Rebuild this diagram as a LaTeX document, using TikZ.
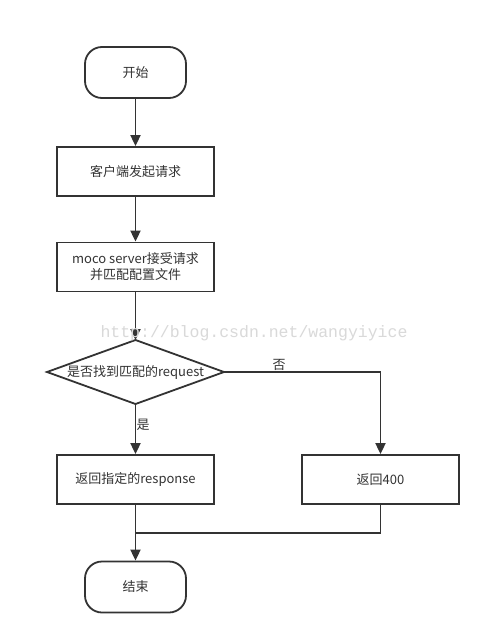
\documentclass[tikz,border=0pt]{standalone}
\usepackage{fontspec}
\setmainfont{Noto Sans CJK SC}
\newfontfamily\wmfont{Liberation Mono}
\usetikzlibrary{arrows.meta}
\definecolor{ln}{HTML}{333333}
\begin{document}
\begin{tikzpicture}[x=1pt,y=-1pt,
  base/.style={draw=ln,line width=1.8pt,text=ln,font=\fontsize{13}{16}\selectfont,align=center,inner sep=0pt},
  terminal/.style={base,minimum width=101pt,minimum height=51pt,rounded corners=17pt},
  procbox/.style={base,minimum width=157pt,minimum height=49pt},
  flow/.style={draw=ln,line width=1.8pt,-{Triangle[length=11pt,width=10pt]}},
  plain/.style={draw=ln,line width=1.8pt},
  lbl/.style={text=ln,font=\fontsize{13}{16}\selectfont,inner sep=0pt}]
\useasboundingbox (0,0) rectangle (491,644);
\fill[white] (0,0) rectangle (491,644);
\node[terminal] (start) at (135.5,72.5) {开始};
\node[procbox] (req) at (135.5,171.5) {客户端发起请求};
\node[procbox] (srv) at (135.5,267) {moco server接受请求\\并匹配配置文件};
\node[base,draw=none] (dtext) at (135.5,372) {是否找到匹配的request};
\coordinate (dT) at (135.5,340);
\coordinate (dB) at (135.5,404);
\coordinate (dL) at (47,372);
\coordinate (dR) at (224,372);
\draw[plain,line join=miter] (dT) -- (dR) -- (dB) -- (dL) -- cycle;
\node[procbox] (resp) at (135.5,479.5) {返回指定的response};
\node[procbox] (r400) at (380.5,479.5) {返回400};
\node[terminal] (end) at (135.5,587) {结束};
\coordinate (corner) at (380.5,372);
\coordinate (merge) at (135.5,533);
\draw[flow] (start) -- (req);
\draw[flow] (req) -- (srv);
\draw[flow] (srv) -- (dT);
\draw[flow] (dB) -- (resp);
\draw[flow] (dR) -- (corner) -- (r400);
\draw[plain] (r400.south) |- (merge);
\draw[flow] (resp) -- (end);
\node[lbl] (yes) at (143,425) {是};
\node[lbl] (no) at (279,365) {否};
\node[text=black!15,font=\wmfont\fontsize{16.5}{16.5}\selectfont,inner sep=0pt] (wm) at (254,333) {http://blog.csdn.net/wangyiyice};
\end{tikzpicture}
\end{document}
